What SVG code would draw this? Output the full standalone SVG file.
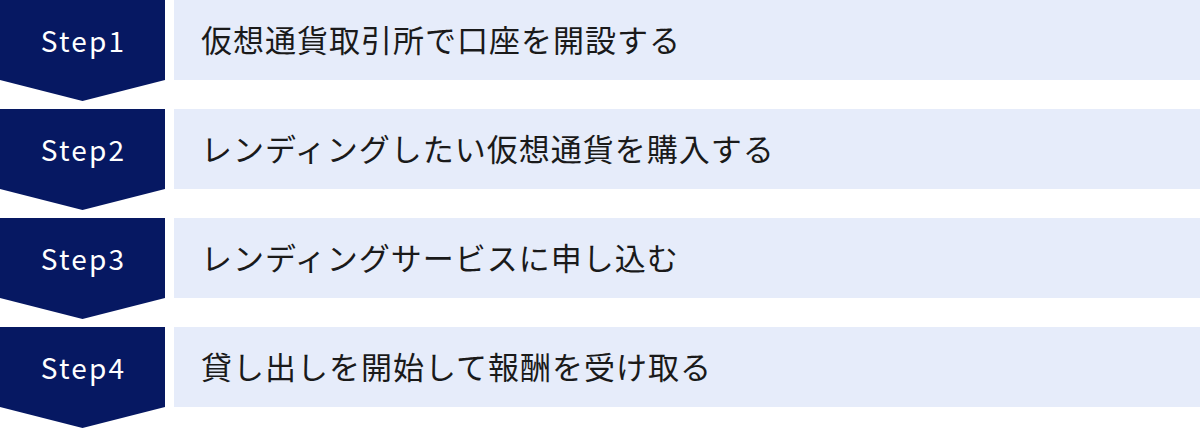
<svg xmlns="http://www.w3.org/2000/svg" width="1200" height="429" viewBox="0 0 1200 429">
<style>
.arrow{fill:#061862}
.box{fill:#E6ECFA}
.step{font-family:"Noto Sans CJK JP","Noto Sans",sans-serif;font-size:28px;fill:#ffffff;text-anchor:middle;letter-spacing:2.2px}
.label{font-family:"Noto Sans CJK JP","Noto Sans",sans-serif;font-size:31px;fill:#1a1a1a;letter-spacing:1px}
</style>
<rect width="1200" height="429" fill="#ffffff"/>
<g id="step1">
<polygon class="arrow" points="0,0 165,0 165,80 82.5,101 0,80"/>
<text class="step" x="83.5" y="52">Step1</text>
<rect class="box" x="174" y="0" width="1026" height="80"/>
<text class="label" x="201" y="52">仮想通貨取引所で口座を開設する</text>
</g>
<g id="step2">
<polygon class="arrow" points="0,109 165,109 165,189 82.5,210 0,189"/>
<text class="step" x="83.5" y="161">Step2</text>
<rect class="box" x="174" y="109" width="1026" height="80"/>
<text class="label" x="201" y="161">レンディングしたい仮想通貨を購入する</text>
</g>
<g id="step3">
<polygon class="arrow" points="0,218 165,218 165,298 82.5,319 0,298"/>
<text class="step" x="83.5" y="270">Step3</text>
<rect class="box" x="174" y="218" width="1026" height="80"/>
<text class="label" x="201" y="270">レンディングサービスに申し込む</text>
</g>
<g id="step4">
<polygon class="arrow" points="0,327 165,327 165,407 82.5,428 0,407"/>
<text class="step" x="83.5" y="379">Step4</text>
<rect class="box" x="174" y="327" width="1026" height="80"/>
<text class="label" x="201" y="379">貸し出しを開始して報酬を受け取る</text>
</g>
<g id="connectors"></g>
</svg>
